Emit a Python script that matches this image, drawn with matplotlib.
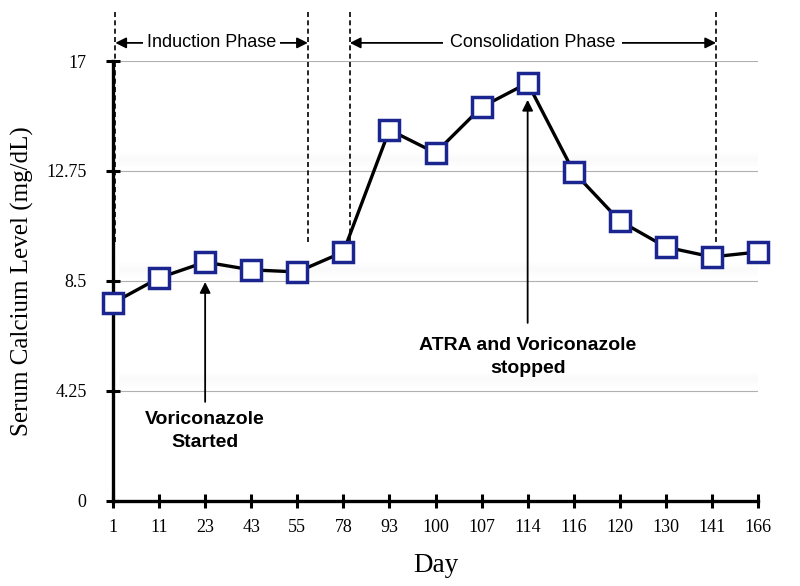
import numpy as np
import matplotlib.pyplot as plt

# data
days = ['1', '11', '23', '43', '55', '78', '93', '100', '107', '114',
        '116', '120', '130', '141', '166']
calcium = [7.65, 8.62, 9.23, 8.93, 8.85, 9.62, 14.34, 13.45, 15.22, 16.15,
           12.71, 10.82, 9.81, 9.43, 9.62]
yticks = [0, 4.25, 8.5, 12.75, 17]

serif = ['Liberation Serif', 'DejaVu Serif']
sans = ['Liberation Sans', 'DejaVu Sans']

fig = plt.figure(figsize=(8, 5.86), dpi=100)
ax = fig.add_axes([0.14125, 0.1451, 0.80625, 0.7508])

x = np.arange(len(days))

# soft grid lines with faint shading above them
for g in yticks[1:]:
    ax.hlines(g, 0.05, len(days) - 1, color='#b0b0b0', lw=0.8, zorder=1)
    for k in range(5):
        ax.axhspan(g + 0.15 + k * 0.06, g + 0.75 - k * 0.06,
                   xmin=0.01, xmax=1.0, color='#808080', alpha=0.008, lw=0, zorder=0)

ax.plot(x, calcium, color='black', lw=2.4, marker='s', markersize=14,
        markerfacecolor='white', markeredgecolor='#1a2590', markeredgewidth=2.5,
        zorder=5, clip_on=False)

# phase boundaries
lines_x = [0.05, 4.23, 5.14, 13.09]
for lx in lines_x:
    ax.plot([lx, lx], [10.0, 19.0], color='black', lw=1.2, ls=(0, (3, 2)),
            clip_on=False, zorder=3)

ya = 17.7
ax.annotate('', xy=(lines_x[0], ya), xytext=(lines_x[1], ya),
            arrowprops=dict(arrowstyle='<|-|>', color='black', lw=1.3,
                            shrinkA=0, shrinkB=0, mutation_scale=16),
            annotation_clip=False)
ax.text((lines_x[0] + lines_x[1]) / 2, ya, 'Induction Phase', ha='center',
        va='center', fontsize=13, family=sans, zorder=6,
        bbox=dict(facecolor='white', edgecolor='none', pad=3), clip_on=False)
ax.annotate('', xy=(lines_x[2], ya), xytext=(lines_x[3], ya),
            arrowprops=dict(arrowstyle='<|-|>', color='black', lw=1.3,
                            shrinkA=0, shrinkB=0, mutation_scale=16),
            annotation_clip=False)
ax.text((lines_x[2] + lines_x[3]) / 2, ya, 'Consolidation Phase', ha='center',
        va='center', fontsize=13, family=sans, zorder=6,
        bbox=dict(facecolor='white', edgecolor='none', pad=5), clip_on=False)

# event annotations
ax.annotate('', xy=(2, 8.46), xytext=(2, 3.83),
            arrowprops=dict(arrowstyle='-|>', color='black', lw=1.3,
                            shrinkA=0, shrinkB=0, mutation_scale=16))
ax.text(2, 2.7, 'Voriconazole\nStarted', ha='center', va='center',
        fontsize=14, fontweight='bold', family=sans, linespacing=1.4)
ax.annotate('', xy=(9, 15.5), xytext=(9, 6.88),
            arrowprops=dict(arrowstyle='-|>', color='black', lw=1.3,
                            shrinkA=0, shrinkB=0, mutation_scale=16))
ax.text(9, 5.55, 'ATRA and Voriconazole\nstopped', ha='center', va='center',
        fontsize=14, fontweight='bold', family=sans, linespacing=1.45)

ax.set_xlim(0, len(days) - 1)
ax.set_ylim(0, 17)
ax.set_xticks(x)
ax.set_xticklabels(days, family=serif, fontsize=13)
ax.set_yticks(yticks)
ax.set_yticklabels(['0', '4.25', '8.5', '12.75', '17'], family=serif, fontsize=13)
ax.tick_params(direction='inout', length=10, width=2.2)
ax.tick_params(axis='x', pad=8)
ax.tick_params(axis='y', pad=14)

for s in ['top', 'right']:
    ax.spines[s].set_visible(False)
for s in ['left', 'bottom']:
    ax.spines[s].set_linewidth(2.4)
    ax.spines[s].set_zorder(4)

ax.set_xlabel('Day', family=serif, fontsize=19.5, labelpad=12)
ax.set_ylabel('Serum Calcium Level (mg/dL)', family=serif, fontsize=18, labelpad=9)

fig.savefig('out.png', dpi=100)
